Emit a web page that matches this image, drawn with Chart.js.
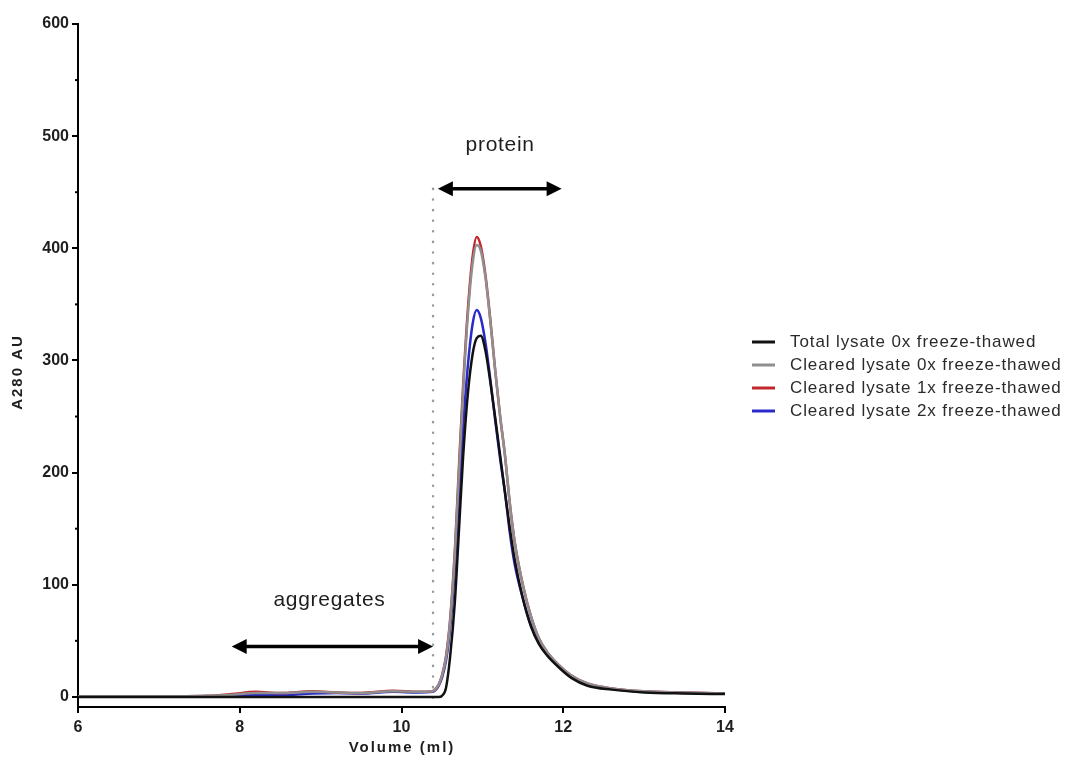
<!DOCTYPE html>
<html>
<head>
<meta charset="utf-8">
<script src="https://cdn.jsdelivr.net/npm/chart.js@4/dist/chart.umd.min.js"></script>
<style>
  html, body { margin: 0; padding: 0; background: #fff; }
  #wrap { width: 1068px; height: 762px; }
</style>
</head>
<body>
<div id="wrap"><canvas id="chart1"></canvas></div>
<script>
// elution volume (ml), shared by all four traces
const volume = [6.0, 7.0, 7.6, 7.9, 8.2, 8.5, 8.9, 9.2, 9.5, 9.9, 10.2, 10.38, 10.42, 10.46, 10.5, 10.55, 10.6, 10.66, 10.71, 10.76,
                10.82, 10.88, 10.93, 10.98, 11.04, 11.1, 11.16, 11.22, 11.28, 11.34, 11.4, 11.5, 11.6, 11.7, 11.8, 11.95, 12.1, 12.3, 12.6, 13.0, 13.5, 14.0];

// A280 values
const totalLysate0x = [0, 0, 0, 0, 0, 0, 0, 0, 0, 0, 0, 0, 0, 0, 1, 8, 35, 85, 148, 212,
                       270, 306, 320, 322, 308, 280, 248, 215, 182, 150, 122, 88, 63, 47, 37, 26, 17, 10, 6.5, 4, 3, 2.5];
const cleared0x = [0.5, 0.5, 1, 2, 3.5, 3.5, 4.5, 4, 3.5, 5, 4.5, 5, 7, 11, 19, 35, 66, 128, 200, 270,
                   340, 387, 403, 398, 373, 334, 290, 250, 215, 172, 138, 100, 72, 52, 40, 28, 19, 12, 7.5, 5, 4, 3];
const cleared1x = [0.5, 0.5, 1, 2.5, 4.5, 3.5, 5, 4, 3.5, 5.5, 4.5, 5, 7, 11, 19, 36, 68, 131, 205, 275,
                   345, 393, 410, 402, 375, 335, 290, 250, 215, 172, 138, 100, 72, 52, 40, 28, 19, 12, 7.5, 5, 4, 3];
const cleared2x = [0.5, 0.5, 0.5, 1, 2, 1.5, 3, 3.5, 3, 4.5, 4, 4.5, 6, 10, 17, 32, 60, 115, 178, 238,
                   295, 333, 345, 338, 315, 282, 246, 212, 182, 146, 118, 88, 64, 48, 38, 27, 18, 11, 7, 4.5, 3.5, 3];

const seriesLabels = ['Total lysate 0x freeze-thawed', 'Cleared lysate 0x freeze-thawed',
                      'Cleared lysate 1x freeze-thawed', 'Cleared lysate 2x freeze-thawed'];
const seriesColors = ['#111111', '#8f8f8f', '#c4262e', '#2a2ac8'];

const yTicks = [0, 100, 200, 300, 400, 500, 600];
const yMinorTicks = [50, 150, 250, 350, 450, 550];
const xTicks = [6, 8, 10, 12, 14];

function toPoints(ys) {
    return volume.map((v, i) => ({ x: v, y: ys[i] }));
}

// annotations in data units
const cutVolume = 10.39;
const proteinArrow = { from: 10.45, to: 11.98, y: 453 };
const aggArrow = { from: 7.9, to: 10.39, y: 45 };

function arrow(ctx, x1, x2, y) {
    const head = 15, half = 7.5;
    ctx.save();
    ctx.strokeStyle = '#000';
    ctx.fillStyle = '#000';
    ctx.lineWidth = 3.5;
    ctx.beginPath();
    ctx.moveTo(x1 + head - 2, y);
    ctx.lineTo(x2 - head + 2, y);
    ctx.stroke();
    ctx.beginPath();
    ctx.moveTo(x1, y); ctx.lineTo(x1 + head, y - half); ctx.lineTo(x1 + head, y + half); ctx.closePath();
    ctx.fill();
    ctx.beginPath();
    ctx.moveTo(x2, y); ctx.lineTo(x2 - head, y - half); ctx.lineTo(x2 - head, y + half); ctx.closePath();
    ctx.fill();
    ctx.restore();
}

const extras = {
    id: 'extras',
    beforeDatasetsDraw(chart) {
        const ctx = chart.ctx, xs = chart.scales.x, ys = chart.scales.y;
        // dotted cut line
        ctx.save();
        ctx.strokeStyle = '#9a9a9a';
        ctx.lineWidth = 2.5;
        ctx.lineCap = 'round';
        ctx.setLineDash([0.1, 10.5]);
        ctx.beginPath();
        const cx = xs.getPixelForValue(cutVolume);
        ctx.moveTo(cx, ys.getPixelForValue(proteinArrow.y));
        ctx.lineTo(cx, chart.chartArea.bottom);
        ctx.stroke();
        ctx.restore();
    },
    afterDraw(chart) {
        const ctx = chart.ctx, xs = chart.scales.x, ys = chart.scales.y;
        // minor y ticks
        ctx.save();
        ctx.strokeStyle = '#000';
        ctx.lineWidth = 2;
        yMinorTicks.forEach(v => {
            const p = ys.getPixelForValue(v);
            ctx.beginPath();
            ctx.moveTo(chart.chartArea.left - 3, p);
            ctx.lineTo(chart.chartArea.left, p);
            ctx.stroke();
        });
        ctx.restore();

        arrow(ctx, xs.getPixelForValue(proteinArrow.from), xs.getPixelForValue(proteinArrow.to), ys.getPixelForValue(proteinArrow.y));
        arrow(ctx, xs.getPixelForValue(aggArrow.from), xs.getPixelForValue(aggArrow.to), ys.getPixelForValue(aggArrow.y));

        ctx.save();
        ctx.fillStyle = '#1e1e1e';
        ctx.textAlign = 'center';
        ctx.textBaseline = 'middle';
        ctx.font = '21px "Liberation Sans", Arial, sans-serif';
        ctx.letterSpacing = '0.7px';
        ctx.fillText('protein', xs.getPixelForValue(11.22), ys.getPixelForValue(492));
        ctx.fillText('aggregates', xs.getPixelForValue(9.11), ys.getPixelForValue(86));

        // axis titles
        ctx.font = 'bold 15px "Liberation Sans", Arial, sans-serif';
        ctx.letterSpacing = '2px';
        ctx.fillText('Volume (ml)', 402, 748);
        ctx.save();
        ctx.translate(18, 372);
        ctx.rotate(-Math.PI / 2);
        ctx.fillText('A280 AU', 0, 0);
        ctx.restore();

        // legend
        ctx.textAlign = 'left';
        ctx.font = '17px "Liberation Sans", Arial, sans-serif';
        ctx.letterSpacing = '0.9px';
        ctx.fillStyle = '#2b2b2b';
        seriesLabels.forEach((label, i) => {
            const y = 342 + i * 23;
            ctx.strokeStyle = seriesColors[i];
            ctx.lineWidth = 3;
            ctx.beginPath();
            ctx.moveTo(752, y);
            ctx.lineTo(775, y);
            ctx.stroke();
            ctx.fillText(label, 790, y);
        });
        ctx.restore();
    }
};

const tickFont = { family: '"Liberation Sans", Arial, sans-serif', size: 16, weight: 'bold' };

const chart1Config = {
    type: 'line',
    data: {
        datasets: [totalLysate0x, cleared0x, cleared1x, cleared2x].map((ys, i) => ({
            label: seriesLabels[i],
            data: toPoints(ys),
            borderColor: seriesColors[i],
            borderWidth: 2.5,
            pointRadius: 0,
            cubicInterpolationMode: 'monotone',
            fill: false
        }))
    },
    options: {
        responsive: true,
        maintainAspectRatio: false,
        animation: false,
        layout: { padding: { left: 0, top: 24, right: 343, bottom: 0 } },
        plugins: {
            legend: { display: false },
            tooltip: { enabled: false }
        },
        scales: {
            x: {
                type: 'linear',
                min: 6,
                max: 14,
                afterBuildTicks: (scale) => { scale.ticks = xTicks.map(v => ({ value: v })); },
                afterFit: (scale) => { scale.height = 55; },
                ticks: { font: tickFont, color: '#1e1e1e', padding: 5, maxRotation: 0 },
                grid: { drawOnChartArea: false, drawTicks: true, tickLength: 6, color: '#000', lineWidth: 2 },
                border: { display: true, color: '#000', width: 2 }
            },
            y: {
                type: 'linear',
                min: -9,
                max: 600,
                afterBuildTicks: (scale) => { scale.ticks = yTicks.map(v => ({ value: v })); },
                afterFit: (scale) => { scale.width = 78; },
                ticks: { font: tickFont, color: '#1e1e1e', padding: 3 },
                grid: { drawOnChartArea: false, drawTicks: true, tickLength: 6, color: '#000', lineWidth: 2 },
                border: { display: true, color: '#000', width: 2 }
            }
        }
    },
    plugins: [extras]
};

var chart1Chart = new Chart(document.getElementById('chart1'), chart1Config);
</script>
</body>
</html>
